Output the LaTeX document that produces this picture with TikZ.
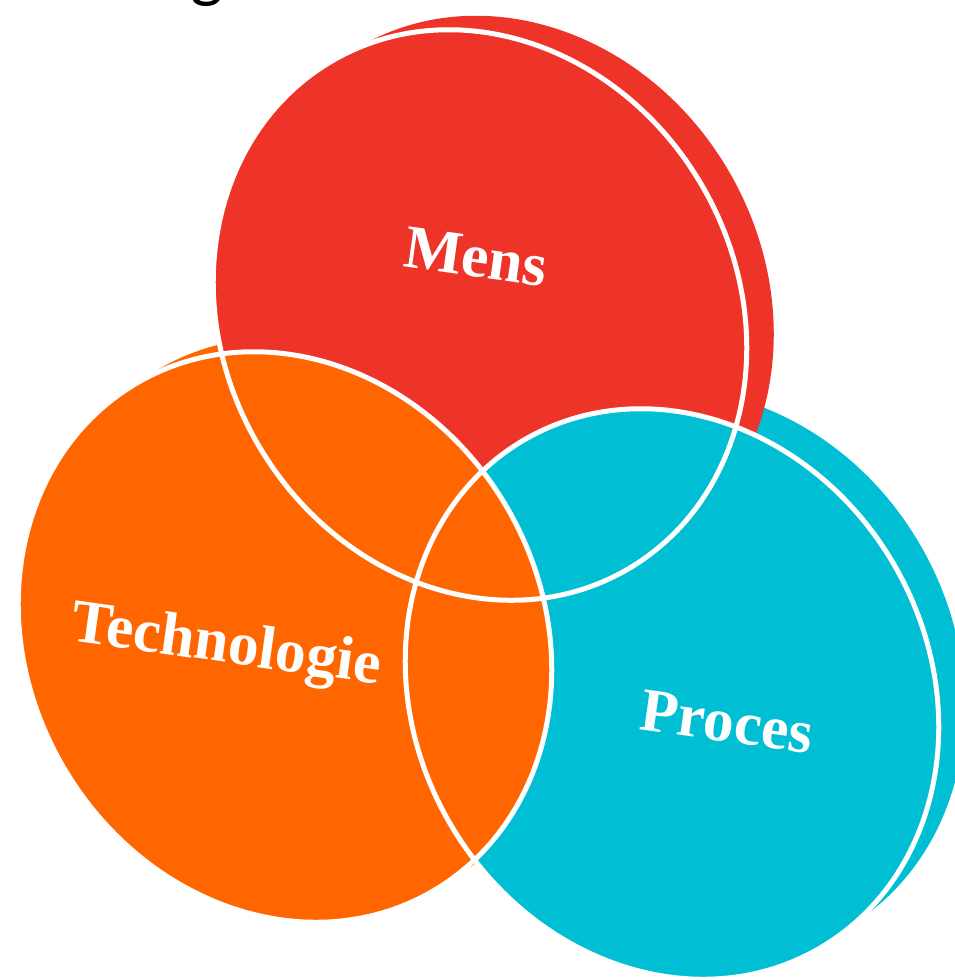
\documentclass[tikz,border=0pt]{standalone}
\usepackage{fontspec}
\setmainfont{Liberation Serif}
\newfontfamily\titlefont{Carlito}
\usetikzlibrary{calc}
\definecolor{mensred}{RGB}{238,52,41}
\definecolor{techorange}{RGB}{255,102,0}
\definecolor{procescyan}{RGB}{0,190,212}

\begin{document}
\begin{tikzpicture}[x=0.1mm,y=-0.1mm,
                    disc/.style={x radius=25.7mm,y radius=29.4mm,rotate=30},
                    rim/.style={draw=white,line width=0.5mm},
                    setname/.style={text=white,font=\fontsize{17.5}{20}\selectfont\bfseries,rotate=-8}]

  \useasboundingbox (0,0) rectangle (954,980);

  \coordinate (cM) at (480,315);
  \coordinate (cT) at (285,637);
  \coordinate (cP) at (672,694);

  % back faces
  \fill[procescyan] ($(cP)+(26,-20)$) ellipse[disc];
  \fill[mensred] ($(cM)+(27,-14)$) ellipse[disc];
  \fill[techorange] ($(cT)+(22,-14)$) ellipse[disc];

  % front faces
  \fill[mensred] (cM) ellipse[disc];
  \fill[procescyan] (cP) ellipse[disc];
  \fill[techorange] (cT) ellipse[disc];

  \foreach \c in {cM,cP,cT}
    \draw[rim] (\c) ellipse[disc];

  \node[setname] (mens) at (476,257) {Mens};
  \node[setname] (tech) at (226,648) {Technologie};
  \node[setname] (proces) at (727,722) {Proces};
  \node[font=\titlefont\fontsize{20}{24}\selectfont,anchor=base] (title) at (207,-6) {g};

\end{tikzpicture}
\end{document}
